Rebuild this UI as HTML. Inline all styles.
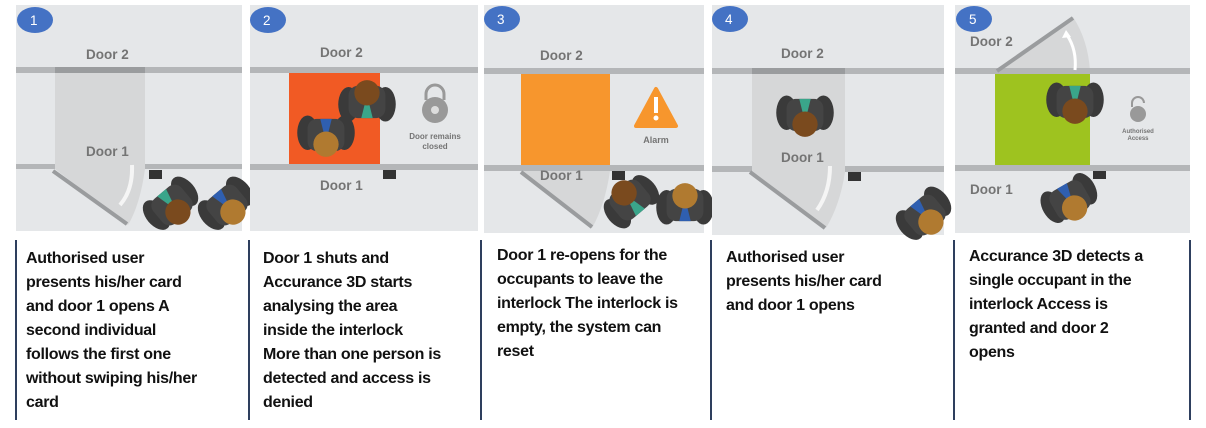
<!DOCTYPE html>
<html><head><meta charset="utf-8"><style>
body{margin:0;width:1206px;height:428px;background:#fff;overflow:hidden;position:relative;font-family:"Liberation Sans",sans-serif}
.t{position:absolute;font-weight:bold;font-size:16px;line-height:24px;color:#111;letter-spacing:-0.3px}
.v{position:absolute;top:240px;width:2px;height:180px;background:#2e3f5e}
</style></head><body>
<svg width="1206" height="240" style="position:absolute;left:0;top:0" font-family="Liberation Sans, sans-serif">
<defs>
<g id="p" transform="scale(1.15)">
<ellipse cx="-16" cy="-2" rx="9" ry="15" fill="#3a3a3a"/>
<ellipse cx="16" cy="-2" rx="9" ry="15" fill="#3a3a3a"/>
<rect x="-16" y="-14" width="32" height="28" rx="8" fill="#444"/>
<path d="M-5,-14 L0,6 L5,-14Z" fill="#3aa58a"/>
<circle cx="0" cy="8" r="11" fill="#7a4a1e"/>
</g>
<g id="q" transform="scale(1.15)">
<ellipse cx="-16" cy="-2" rx="9" ry="15" fill="#3a3a3a"/>
<ellipse cx="16" cy="-2" rx="9" ry="15" fill="#3a3a3a"/>
<rect x="-16" y="-14" width="32" height="28" rx="8" fill="#444"/>
<path d="M-5,-14 L0,6 L5,-14Z" fill="#2f5fb0"/>
<circle cx="0" cy="8" r="11" fill="#b07a30"/>
</g>
</defs>
<g font-weight="bold" fill="#747474" font-size="13.5">
<!-- panel 1 -->
<rect x="16" y="5" width="226" height="226" fill="#e5e7e9"/>
<rect x="16" y="67" width="226" height="6" fill="#b4b6b8"/><rect x="55" y="67" width="90" height="6" fill="#9a9c9e"/>
<rect x="16" y="164" width="226" height="5" fill="#b4b6b8"/>
<path d="M55,73 H145 V169 Q140,205 128,225 L55,169Z" fill="#d6d7d8"/>
<line x1="53" y1="171" x2="127" y2="224" stroke="#9a9c9e" stroke-width="4"/>
<path d="M132,165 Q133,190 120,205" stroke="#f5f5f5" stroke-width="4" fill="none"/>
<rect x="149" y="170" width="13" height="9" fill="#333"/>
<text x="86" y="59">Door 2</text><text x="86" y="156">Door 1</text>
<use href="#p" transform="translate(172,205) rotate(-40)"/>
<use href="#q" transform="translate(227,205) rotate(-40)"/>
<ellipse cx="35" cy="20" rx="18" ry="13" fill="#4472c4"/><text x="30" y="25" fill="#fff" font-weight="normal">1</text>
<!-- panel 2 -->
<rect x="250" y="5" width="228" height="226" fill="#e5e7e9"/>
<rect x="250" y="67" width="228" height="6" fill="#b4b6b8"/>
<rect x="250" y="164" width="228" height="6" fill="#b4b6b8"/>
<rect x="289" y="73" width="91" height="91" fill="#f15a24"/>
<rect x="383" y="170" width="13" height="9" fill="#333"/>
<text x="320" y="57">Door 2</text><text x="320" y="190">Door 1</text>
<use href="#p" transform="translate(367,102) rotate(180)"/>
<use href="#q" transform="translate(326,135)"/>
<circle cx="435" cy="110" r="13" fill="#999"/><path d="M426,100 V94 a9,9 0 0 1 18,0 V100" stroke="#999" stroke-width="3" fill="none"/><circle cx="435" cy="110" r="4" fill="#ddd"/>
<text x="435" y="139" font-size="8" text-anchor="middle">Door remains</text><text x="435" y="149" font-size="8" text-anchor="middle">closed</text>
<ellipse cx="268" cy="20" rx="18" ry="13" fill="#4472c4"/><text x="263" y="25" fill="#fff" font-weight="normal">2</text>
<!-- panel 3 -->
<rect x="484" y="5" width="220" height="228" fill="#e5e7e9"/>
<rect x="484" y="68" width="220" height="6" fill="#b4b6b8"/>
<rect x="484" y="165" width="220" height="6" fill="#b4b6b8"/>
<path d="M521,171 H610 Q605,205 592,228Z" fill="#d6d7d8"/>
<rect x="521" y="74" width="89" height="91" fill="#f7962d"/>
<line x1="521" y1="172" x2="592" y2="227" stroke="#9a9c9e" stroke-width="4"/>
<rect x="612" y="171" width="13" height="9" fill="#333"/>
<text x="540" y="60">Door 2</text><text x="540" y="180">Door 1</text>
<path d="M656,89 L676,126 H636Z" fill="#f7962d" stroke="#f7962d" stroke-width="4" stroke-linejoin="round"/><rect x="654" y="97" width="4" height="16" fill="#fff"/><circle cx="656" cy="118" r="2.5" fill="#fff"/>
<text x="656" y="143" font-size="9" text-anchor="middle">Alarm</text>
<use href="#p" transform="translate(630,200) rotate(140)"/>
<use href="#q" transform="translate(685,205) rotate(180)"/>
<ellipse cx="502" cy="19" rx="18" ry="13" fill="#4472c4"/><text x="497" y="24" fill="#fff" font-weight="normal">3</text>
<!-- panel 4 -->
<rect x="712" y="5" width="232" height="230" fill="#e5e7e9"/>
<rect x="712" y="68" width="232" height="6" fill="#b4b6b8"/><rect x="752" y="68" width="93" height="6" fill="#9a9c9e"/>
<rect x="712" y="166" width="232" height="6" fill="#b4b6b8"/>
<path d="M752,74 H845 V172 Q840,205 826,228 L752,172Z" fill="#d6d7d8"/>
<line x1="750" y1="172" x2="825" y2="228" stroke="#9a9c9e" stroke-width="4"/>
<path d="M830,166 Q830,192 817,210" stroke="#f5f5f5" stroke-width="4" fill="none"/>
<rect x="848" y="172" width="13" height="9" fill="#333"/>
<text x="781" y="58">Door 2</text><text x="781" y="162">Door 1</text>
<use href="#p" transform="translate(805,115)"/>
<use href="#q" transform="translate(925,215) rotate(-40)"/>
<ellipse cx="730" cy="19" rx="18" ry="13" fill="#4472c4"/><text x="725" y="24" fill="#fff" font-weight="normal">4</text>
<!-- panel 5 -->
<rect x="955" y="5" width="235" height="228" fill="#e5e7e9"/>
<path d="M997,71 L1073,17 Q1088,40 1090,71Z" fill="#d6d7d8"/>
<rect x="955" y="68" width="235" height="6" fill="#b4b6b8"/>
<rect x="955" y="165" width="235" height="6" fill="#b4b6b8"/>
<rect x="995" y="74" width="95" height="91" fill="#9ec31f"/>
<line x1="997" y1="71" x2="1073" y2="18" stroke="#9a9c9e" stroke-width="4"/>
<path d="M1075,70 Q1077,50 1067,35" stroke="#fff" stroke-width="3" fill="none"/><path d="M1062,38 L1066,30 L1071,37Z" fill="#fff"/>
<rect x="1093" y="171" width="13" height="8" fill="#333"/>
<text x="970" y="46">Door 2</text><text x="970" y="194">Door 1</text>
<use href="#p" transform="translate(1075,102)"/>
<use href="#q" transform="translate(1070,200) rotate(-30)"/>
<circle cx="1138" cy="114" r="8" fill="#999"/><path d="M1132,107 V103 a6,6 0 0 1 12,0" stroke="#999" stroke-width="2" fill="none"/>
<text x="1138" y="133" font-size="6" text-anchor="middle">Authorised</text><text x="1138" y="140" font-size="6" text-anchor="middle">Access</text>
<ellipse cx="974" cy="19" rx="18" ry="13" fill="#4472c4"/><text x="969" y="24" fill="#fff" font-weight="normal">5</text>
</g>
</svg>
<div class="v" style="left:15px"></div><div class="v" style="left:248px"></div><div class="v" style="left:480px"></div><div class="v" style="left:710px"></div><div class="v" style="left:953px"></div><div class="v" style="left:1189px"></div>
<div class="t" style="left:26px;top:247px;width:220px">Authorised user<br>presents his/her card<br>and door 1 opens A<br>second individual<br>follows the first one<br>without swiping his/her<br>card</div>
<div class="t" style="left:263px;top:247px;width:215px">Door 1 shuts and<br>Accurance 3D starts<br>analysing the area<br>inside the interlock<br>More than one person is<br>detected and access is<br>denied</div>
<div class="t" style="left:497px;top:244px;width:215px">Door 1 re-opens for the<br>occupants to leave the<br>interlock The interlock is<br>empty, the system can<br>reset</div>
<div class="t" style="left:726px;top:246px;width:220px">Authorised user<br>presents his/her card<br>and door 1 opens</div>
<div class="t" style="left:969px;top:245px;width:220px">Accurance 3D detects a<br>single occupant in the<br>interlock Access is<br>granted and door 2<br>opens</div>
</body></html>
